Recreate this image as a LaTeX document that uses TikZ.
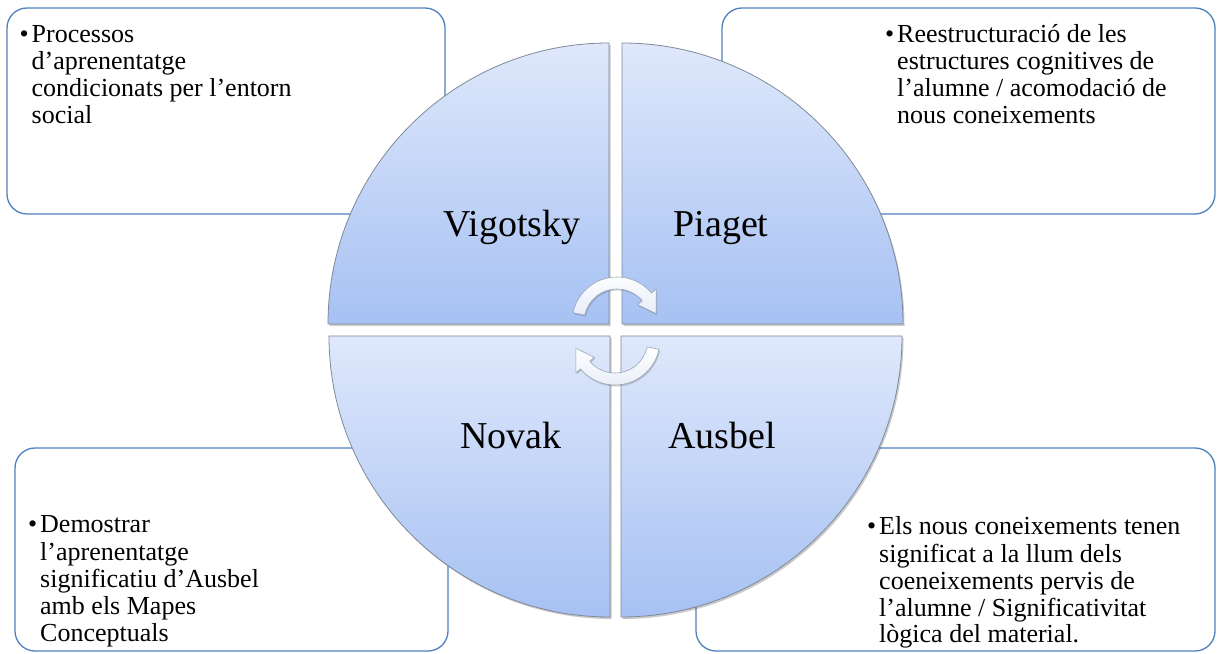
\documentclass[tikz,border=0pt]{standalone}
\usepackage{fontspec}
\setmainfont{Liberation Serif}
\usetikzlibrary{shadows}
\definecolor{boxblue}{HTML}{4F81BD}
\definecolor{quadgray}{HTML}{7F8A99}
\definecolor{qtop}{HTML}{DFE8FB}
\definecolor{qbot}{HTML}{A6C1F3}
\definecolor{arrowfill}{HTML}{E6ECF8}
\definecolor{arrowline}{HTML}{9AA5B5}
\newcommand\itembul{\makebox[12pt][l]{\textbullet}}
\tikzset{
  infobox/.style={draw=boxblue, line width=1.3pt, rounded corners=20pt, fill=white},
  quad/.style={draw=quadgray, line width=0.8pt, top color=qtop, bottom color=qbot,
    drop shadow={shadow xshift=1.5pt, shadow yshift=-2pt, opacity=0.35, fill=black!60}},
  biglabel/.style={font=\fontsize{38}{40}\selectfont, anchor=base, inner sep=0pt},
  desc/.style={font=\fontsize{26}{27}\selectfont, anchor=base west, inner sep=0pt},
  cyclearrow/.style={draw=arrowline, line width=0.6pt, top color=white, bottom color=arrowfill,
    drop shadow={shadow xshift=1pt, shadow yshift=-1.5pt, opacity=0.3, fill=black!60}},
  cyc/.pic={
    \path[cyclearrow] (168:45) arc[start angle=168,end angle=40,radius=45] -- (40:51) -- (12:40)
      -- (40:27) -- (40:33) arc[start angle=40,end angle=168,radius=33] -- cycle;
  }
}
\begin{document}
\begin{tikzpicture}[x=1pt,y=1pt]
\useasboundingbox (0,0) rectangle (1217,653);
\fill[white] (0,0) rectangle (1217,653);
% description boxes
\draw[infobox] (7,439) rectangle (445,645);
\draw[infobox] (722,439) rectangle (1215,645);
\draw[infobox] (15,2) rectangle (448,205);
\draw[infobox] (696,2) rectangle (1215,205);
% quadrants
\path[quad] (609,329) -- (328,329) arc[start angle=180,end angle=90,radius=281] -- cycle;
\path[quad] (622,329) -- (622,610) arc[start angle=90,end angle=0,radius=281] -- cycle;
\path[quad] (610,317) -- (329,317) arc[start angle=180,end angle=270,radius=281] -- cycle;
\path[quad] (621,317) -- (902,317) arc[start angle=0,end angle=-90,radius=281] -- cycle;
% cycle arrows
\pic at (617,331) {cyc};
\pic[rotate=180] at (615,313) {cyc};
% quadrant labels
\node[biglabel] (vig) at (512,416) {Vigotsky};
\node[biglabel] (pia) at (721,416) {Piaget};
\node[biglabel] (nov) at (511,204) {Novak};
\node[biglabel] (aus) at (722,204) {Ausbel};
% descriptions
\node[desc] (tvig) at (19.5,610) {\itembul\begin{tabular}[t]{@{}l@{}}Processos\\d’aprenentatge\\condicionats per l’entorn\\social\end{tabular}};
\node[desc] (tpia) at (885,610) {\itembul\begin{tabular}[t]{@{}l@{}}Reestructuració de les\\estructures cognitives de\\l’alumne / acomodació de\\nous coneixements\end{tabular}};
\node[desc] (tnov) at (28,120) {\itembul\begin{tabular}[t]{@{}l@{}}Demostrar\\l’aprenentatge\\significatiu d’Ausbel\\amb els Mapes\\Conceptuals\end{tabular}};
\node[desc] (taus) at (867,118) {\itembul\begin{tabular}[t]{@{}l@{}}Els nous coneixements tenen\\significat a la llum dels\\coeneixements pervis de\\l’alumne / Significativitat\\lògica del material.\end{tabular}};
\end{tikzpicture}
\end{document}
